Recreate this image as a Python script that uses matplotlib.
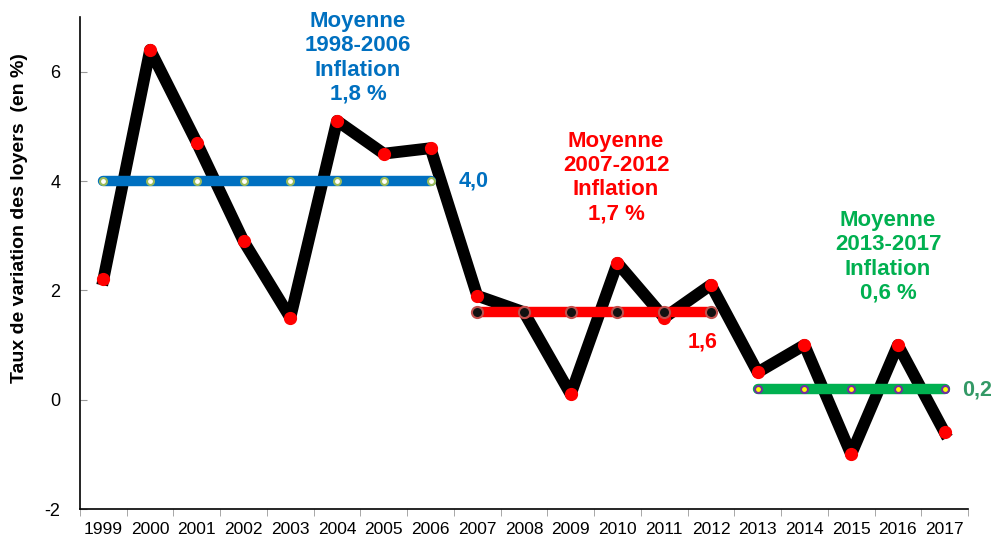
import matplotlib
matplotlib.use("Agg")
import matplotlib.pyplot as plt
import numpy as np

plt.rcParams['font.family'] = ['Liberation Sans', 'DejaVu Sans']
plt.rcParams['axes.unicode_minus'] = False

years = ["1999", "2000", "2001", "2002", "2003", "2004", "2005", "2006", "2007", "2008",
         "2009", "2010", "2011", "2012", "2013", "2014", "2015", "2016", "2017"]
loyers = [2.2, 6.4, 4.7, 2.9, 1.5, 5.1, 4.5, 4.6, 1.9, 1.6,
          0.1, 2.5, 1.5, 2.1, 0.5, 1.0, -1.0, 1.0, -0.6]

periods = [
    # (first year, last year, mean, label, inflation text)
    ("1999", "2006", 4.0, "4,0", "Moyenne\n1998-2006\nInflation\n1,8 %"),
    ("2007", "2012", 1.6, "1,6", "Moyenne\n2007-2012\nInflation\n1,7 %"),
    ("2013", "2017", 0.2, "0,2", "Moyenne\n2013-2017\nInflation\n0,6 %"),
]
line_colors = ["#0070C0", "#FF0000", "#00B050"]
marker_faces = ["#FFFFFF", "#111111", "#FFFF00"]
marker_edges = ["#9BBB59", "#C0504D", "#7030A0"]
marker_sizes = [5, 8, 5]
text_colors = ["#0070C0", "#FF0000", "#00B050"]
value_colors = ["#0070C0", "#FF0000", "#339966"]

fig = plt.figure(figsize=(9.91, 5.40), dpi=100)
ax = fig.add_axes([80/991, 1 - 509/540, (968 - 80)/991, (509 - 17)/540])

x = np.arange(len(years))
ax.plot(x, loyers, color="black", lw=8.5, solid_joinstyle="round", zorder=2)
ax.plot(x, loyers, ls="none", marker="o", ms=8.5, mfc="#FF0000", mec="#FF0000", zorder=3)

for i, (y0, y1, m, lab, txt) in enumerate(periods):
    i0, i1 = years.index(y0), years.index(y1)
    xs = x[i0:i1 + 1]
    ys = [m] * len(xs)
    ax.plot(xs, ys, color=line_colors[i], lw=7.5, solid_capstyle="round", zorder=4)
    ax.plot(xs, ys, ls="none", marker="o", ms=marker_sizes[i], mfc=marker_faces[i],
            mec=marker_edges[i], mew=1.5, zorder=5)

# value labels
ax.text(7.6, 4.0, periods[0][3], color=value_colors[0], fontsize=15.5, fontweight="bold",
        ha="left", va="center")
ax.text(12.83, 1.05, periods[1][3], color=value_colors[1], fontsize=15.5, fontweight="bold",
        ha="center", va="center")
ax.text(18.37, 0.18, periods[2][3], color=value_colors[2], fontsize=15.5, fontweight="bold",
        ha="left", va="center", clip_on=False)

# period texts
ax.text(5.45, 6.25, periods[0][4], color=text_colors[0], fontsize=16, fontweight="bold",
        ha="center", va="center", linespacing=1.2)
ax.text(10.97, 4.06, periods[1][4], color=text_colors[1], fontsize=16, fontweight="bold",
        ha="center", va="center", linespacing=1.2)
ax.text(16.79, 2.61, periods[2][4], color=text_colors[2], fontsize=16, fontweight="bold",
        ha="center", va="center", linespacing=1.2)

ax.set_xlim(-0.5, len(years) - 0.5)
ax.set_ylim(-2, 7)
ax.set_yticks([-2, 0, 2, 4, 6])
ax.set_xticks(x)
ax.set_xticklabels(years, fontsize=12.5)
ax.set_xticks(np.arange(len(years) + 1) - 0.5, minor=True)
ax.tick_params(axis="x", which="major", length=0, pad=9)
ax.tick_params(axis="x", which="minor", length=5, color="#999999", direction="out")
ax.tick_params(axis="y", which="major", length=5, color="#999999", direction="in",
               labelsize=13, pad=14)
for s in ["top", "right"]:
    ax.spines[s].set_visible(False)
for s in ["left", "bottom"]:
    ax.spines[s].set_linewidth(1.2)
    ax.spines[s].set_color("black")

fig.text(20/991, 1 - 218/540, "Taux de variation des loyers  (en %)", fontsize=14,
         fontweight="bold", rotation=90, ha="center", va="center")

fig.savefig("out.png", dpi=100)
